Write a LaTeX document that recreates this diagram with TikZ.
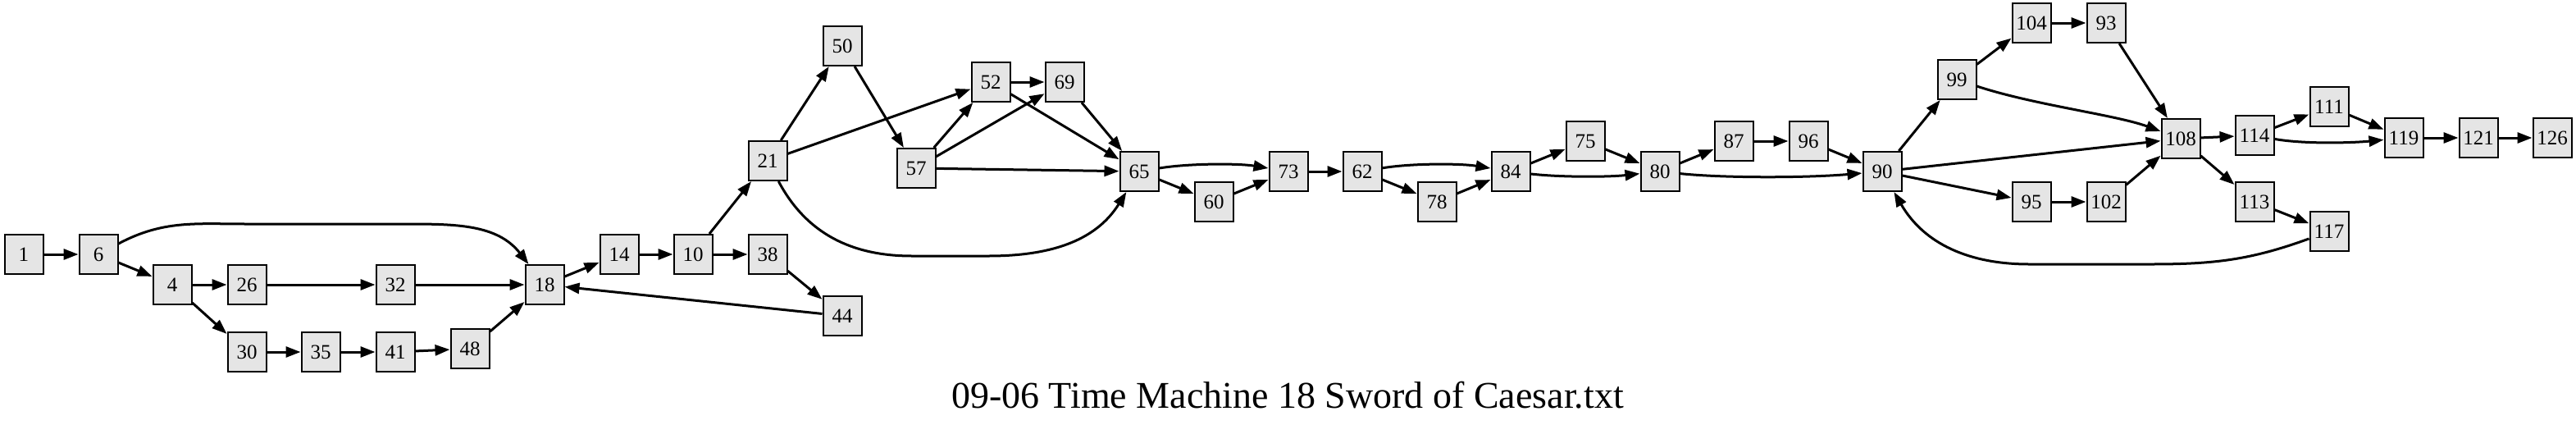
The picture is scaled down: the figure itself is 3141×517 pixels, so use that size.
\documentclass[tikz,border=0pt]{standalone}
\usepackage{fontspec}
\setmainfont{Liberation Serif}
\usetikzlibrary{arrows.meta}
\definecolor{nodefill}{RGB}{229,229,229}
\tikzset{
  box/.style={draw=black, fill=nodefill, line width=2pt, minimum width=47pt, minimum height=48pt, inner sep=0pt, font=\fontsize{25}{25}\selectfont},
  edge/.style={draw=black, line width=3pt, -{Triangle[length=18pt,width=13pt]}},
}
\begin{document}
\begin{tikzpicture}[x=1pt,y=1pt]
\useasboundingbox (0,0) rectangle (3141,-517);
\node[box] (n1) at (29,-310) {1};
\node[box] (n6) at (120,-310) {6};
\node[box] (n4) at (210,-347) {4};
\node[box] (n26) at (301,-347) {26};
\node[box] (n32) at (482,-347) {32};
\node[box] (n18) at (664,-347) {18};
\node[box] (n30) at (301,-429) {30};
\node[box] (n35) at (391,-429) {35};
\node[box] (n41) at (482,-429) {41};
\node[box] (n48) at (573,-425) {48};
\node[box] (n14) at (755,-310) {14};
\node[box] (n10) at (845,-310) {10};
\node[box] (n38) at (936,-310) {38};
\node[box] (n44) at (1027,-385) {44};
\node[box] (n21) at (936,-196) {21};
\node[box] (n50) at (1027,-56) {50};
\node[box] (n52) at (1208,-100) {52};
\node[box] (n69) at (1298,-100) {69};
\node[box] (n57) at (1117,-205) {57};
\node[box] (n65) at (1389,-209) {65};
\node[box] (n60) at (1480,-246) {60};
\node[box] (n73) at (1571,-209) {73};
\node[box] (n62) at (1661,-209) {62};
\node[box] (n78) at (1752,-246) {78};
\node[box] (n84) at (1842,-209) {84};
\node[box] (n75) at (1933,-172) {75};
\node[box] (n80) at (2024,-209) {80};
\node[box] (n87) at (2114,-172) {87};
\node[box] (n96) at (2205,-172) {96};
\node[box] (n90) at (2295,-209) {90};
\node[box] (n99) at (2386,-97) {99};
\node[box] (n104) at (2477,-28) {104};
\node[box] (n93) at (2568,-28) {93};
\node[box] (n108) at (2659,-169) {108};
\node[box] (n95) at (2477,-246) {95};
\node[box] (n102) at (2568,-246) {102};
\node[box] (n114) at (2749,-165) {114};
\node[box] (n113) at (2749,-246) {113};
\node[box] (n117) at (2840,-282) {117};
\node[box] (n111) at (2840,-130) {111};
\node[box] (n119) at (2931,-168) {119};
\node[box] (n121) at (3022,-168) {121};
\node[box] (n126) at (3112,-168) {126};
\node[anchor=base, font=\fontsize{46}{46}\selectfont] (cap) at (1570,-497) {09-06 Time Machine 18 Sword of Caesar.txt};

\draw[edge] (n1) -- (n6);
\draw[edge] (n6) -- (n4);
\draw[edge] (n6) to[out=28,in=180] (300,-273) -- (495,-273) to[out=0,in=128] (n18);
\draw[edge] (n4) -- (n26);
\draw[edge] (n4) -- (n30);
\draw[edge] (n26) -- (n32);
\draw[edge] (n32) -- (n18);
\draw[edge] (n30) -- (n35);
\draw[edge] (n35) -- (n41);
\draw[edge] (n41) -- (n48);
\draw[edge] (n48) -- (n18);
\draw[edge] (n18) -- (n14);
\draw[edge] (n14) -- (n10);
\draw[edge] (n10) -- (n21);
\draw[edge] (n10) -- (n38);
\draw[edge] (n38) -- (n44);
\draw[edge] (n44) -- (n18);
\draw[edge] (n21) -- (n50);
\draw[edge] (n21) -- (n52);
\draw[edge] (n21) to[out=-62,in=180] (1112,-312) -- (1205,-312) to[out=0,in=-122] (n65);
\draw[edge] (n50) -- (n57);
\draw[edge] (n57) -- (n52);
\draw[edge] (n57) -- (n69);
\draw[edge] (n57) -- (n65);
\draw[edge] (n52) -- (n69);
\draw[edge] (n52) -- (n65);
\draw[edge] (n69) -- (n65);
\draw[edge] (n65) .. controls (1450,-199) and (1510,-199) .. (n73);
\draw[edge] (n65) -- (n60);
\draw[edge] (n60) -- (n73);
\draw[edge] (n73) -- (n62);
\draw[edge] (n62) .. controls (1720,-199) and (1780,-199) .. (n84);
\draw[edge] (n62) -- (n78);
\draw[edge] (n78) -- (n84);
\draw[edge] (n84) -- (n75);
\draw[edge] (n84) .. controls (1900,-216) and (1960,-216) .. (n80);
\draw[edge] (n75) -- (n80);
\draw[edge] (n80) -- (n87);
\draw[edge] (n80) .. controls (2100,-217) and (2200,-217) .. (n90);
\draw[edge] (n87) -- (n96);
\draw[edge] (n96) -- (n90);
\draw[edge] (n90) -- (n99);
\draw[edge] (n90) -- (n108);
\draw[edge] (n90) -- (n95);
\draw[edge] (n99) .. controls (2480,-128) and (2580,-140) .. (n108);
\draw[edge] (n99) -- (n104);
\draw[edge] (n104) -- (n93);
\draw[edge] (n93) -- (n108);
\draw[edge] (n95) -- (n102);
\draw[edge] (n102) -- (n108);
\draw[edge] (n108) -- (n114);
\draw[edge] (n108) -- (n113);
\draw[edge] (n114) -- (n111);
\draw[edge] (n114) .. controls (2810,-176) and (2870,-174) .. (n119);
\draw[edge] (n111) -- (n119);
\draw[edge] (n113) -- (n117);
\draw[edge] (n117) to[out=200,in=0] (2623,-322) -- (2474,-322) to[out=180,in=-60] (n90);
\draw[edge] (n119) -- (n121);
\draw[edge] (n121) -- (n126);
\end{tikzpicture}
\end{document}
